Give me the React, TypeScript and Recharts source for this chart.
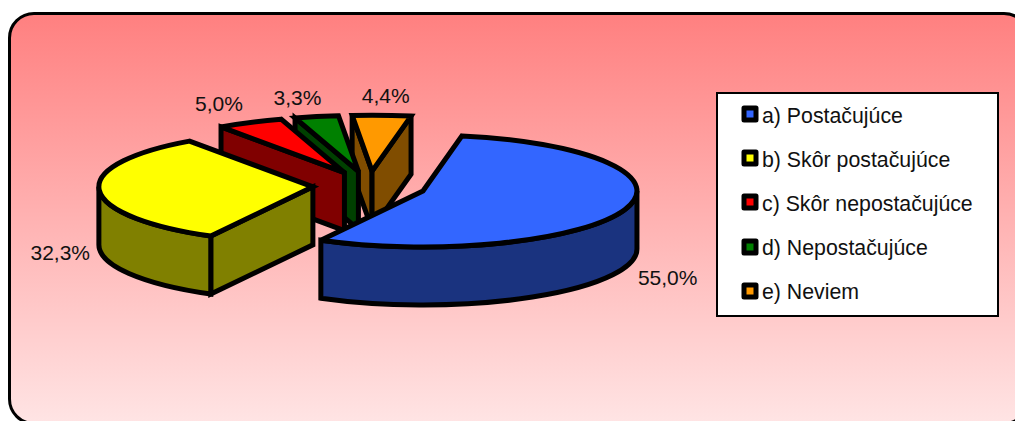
import { PieChart, Pie, Legend } from "recharts";

const categories = [
  "a) Postačujúce",
  "b) Skôr postačujúce",
  "c) Skôr nepostačujúce",
  "d) Nepostačujúce",
  "e) Neviem",
];
const values = [55.0, 32.3, 5.0, 3.3, 4.4];
const topColors = ["#3366FF", "#FFFF00", "#FF0000", "#008000", "#FF9900"];
const sideColors = ["#1A337F", "#808000", "#800000", "#004000", "#804D00"];

// label nudge from the slice rim, same order as categories
const labelNudge = [
  [43, 68],
  [-39, 62],
  [-31, -19],
  [-19, -19],
  [4, -20],
];

const FONT = '"Liberation Sans", Arial, sans-serif';
const SQUASH = 56 / 214;
const DEPTH = 58;
const EXPLODE = 0.265;
const LINE = 5;

// reversed so the slices paint back to front, blue last
const pieData = categories
  .map((name, i) => ({ name, value: values[i], fill: topColors[i] }))
  .reverse();

// angles here are clockwise from the top of the pie
function geometry(p: any) {
  const sweep = Math.abs(p.endAngle - p.startAngle);
  const a = (((90 - Math.max(p.startAngle, p.endAngle)) % 360) + 360) % 360;
  const b = a + sweep;
  const rx = p.outerRadius;
  const ry = rx * SQUASH;
  const mid = (((a + b) / 2) * Math.PI) / 180;
  const cx = p.cx + EXPLODE * rx * Math.sin(mid);
  const cy = p.cy - EXPLODE * ry * Math.cos(mid);
  const at = (deg: number, drop = 0) => {
    const t = (deg * Math.PI) / 180;
    return [cx + rx * Math.sin(t), cy - ry * Math.cos(t) + drop];
  };
  return { a, b, rx, ry, mid, cx, cy, at };
}

function Slice3D(p: any) {
  const { a, b, rx, ry, cx, cy, at } = geometry(p);
  const side = sideColors[topColors.indexOf(p.fill)];
  const common = { stroke: "#000", strokeWidth: LINE, strokeLinejoin: "miter" as const, strokeMiterlimit: 3 };

  const face = (deg: number) => {
    const [x, y] = at(deg);
    return `M${cx},${cy} L${x},${y} L${x},${y + DEPTH} L${cx},${cy + DEPTH} Z`;
  };
  const faces: number[] = [];
  if (Math.sin((a * Math.PI) / 180) < 0) faces.push(a);
  if (Math.sin((b * Math.PI) / 180) > 0) faces.push(b);

  // outer wall only shows on the front half
  const from = Math.max(a, 90);
  const to = Math.min(b, 270);
  let wall = "";
  if (to > from) {
    const [x1, y1] = at(from);
    const [x2, y2] = at(to);
    const big = to - from > 180 ? 1 : 0;
    wall = `M${x1},${y1} A${rx},${ry} 0 ${big} 1 ${x2},${y2} L${x2},${y2 + DEPTH} A${rx},${ry} 0 ${big} 0 ${x1},${y1 + DEPTH} Z`;
  }

  const [sx, sy] = at(a);
  const [ex, ey] = at(b);
  const top = `M${cx},${cy} L${sx},${sy} A${rx},${ry} 0 ${b - a > 180 ? 1 : 0} 1 ${ex},${ey} Z`;

  return (
    <g>
      {faces.map((deg) => (
        <path key={deg} d={face(deg)} fill={side} {...common} />
      ))}
      {wall && <path d={wall} fill={side} {...common} />}
      <path d={top} fill={p.fill} {...common} />
    </g>
  );
}

function renderLabel(p: any) {
  const { mid, rx, ry, cx, cy } = geometry(p);
  const name = p.name ?? p.payload?.name;
  const i = categories.indexOf(name);
  const x = cx + rx * Math.sin(mid) + labelNudge[i][0];
  const y = cy - ry * Math.cos(mid) + labelNudge[i][1];
  return (
    <text x={x} y={y} textAnchor="middle" dominantBaseline="central" fontSize={21} fontFamily={FONT} fill="#111">
      {values[i].toFixed(1).replace(".", ",") + "%"}
    </text>
  );
}

function LegendBox({ payload }: any) {
  const items = [...(payload ?? [])].sort((x: any, y: any) => String(x.value).localeCompare(String(y.value)));
  return (
    <div
      style={{
        boxSizing: "border-box",
        width: 283,
        height: 225,
        background: "#fff",
        border: "2px solid #000",
        padding: "0 0 0 22px",
        display: "flex",
        flexDirection: "column",
        justifyContent: "space-around",
        fontFamily: FONT,
        fontSize: 21.3,
        color: "#111",
      }}
    >
      {items.map((item: any) => (
        <div key={item.value} style={{ display: "flex", alignItems: "center", height: 44 }}>
          <svg width={22} height={22} style={{ display: "block", marginTop: -2 }}>
            <rect x={4} y={4} width={12} height={12} fill={item.color} stroke="#000" strokeWidth={5} strokeLinejoin="round" />
          </svg>
          <span style={{ whiteSpace: "nowrap" }}>{item.value}</span>
        </div>
      ))}
    </div>
  );
}

export default function App() {
  return (
    <div style={{ position: "fixed", left: 0, top: 0, width: 1015, height: 421, overflow: "hidden", background: "#fff" }}>
      <div
        style={{
          position: "absolute",
          left: 8,
          top: 12,
          width: 1022,
          height: 413,
          boxSizing: "border-box",
          border: "3px solid #000",
          borderRadius: 26,
          background: "linear-gradient(180deg, #FF8080 0%, #FFE4E4 100%)",
        }}
      />
      <div style={{ position: "absolute", left: 0, top: 0 }}>
        <PieChart width={1015} height={421} margin={{ top: 0, right: 0, bottom: 0, left: 0 }}>
          <Pie
            data={pieData}
            dataKey="value"
            nameKey="name"
            cx={369.5}
            cy={186}
            innerRadius={0}
            outerRadius={214}
            startAngle={79.5}
            endAngle={439.5}
            paddingAngle={0}
            stroke="none"
            isAnimationActive={false}
            shape={Slice3D}
            activeShape={Slice3D}
            inactiveShape={Slice3D}
            label={renderLabel}
            labelLine={false}
          />
          <Legend
            content={<LegendBox />}
            wrapperStyle={{ position: "absolute", left: 716, top: 92, width: 283, height: 225, bottom: "auto" }}
          />
        </PieChart>
      </div>
    </div>
  );
}
